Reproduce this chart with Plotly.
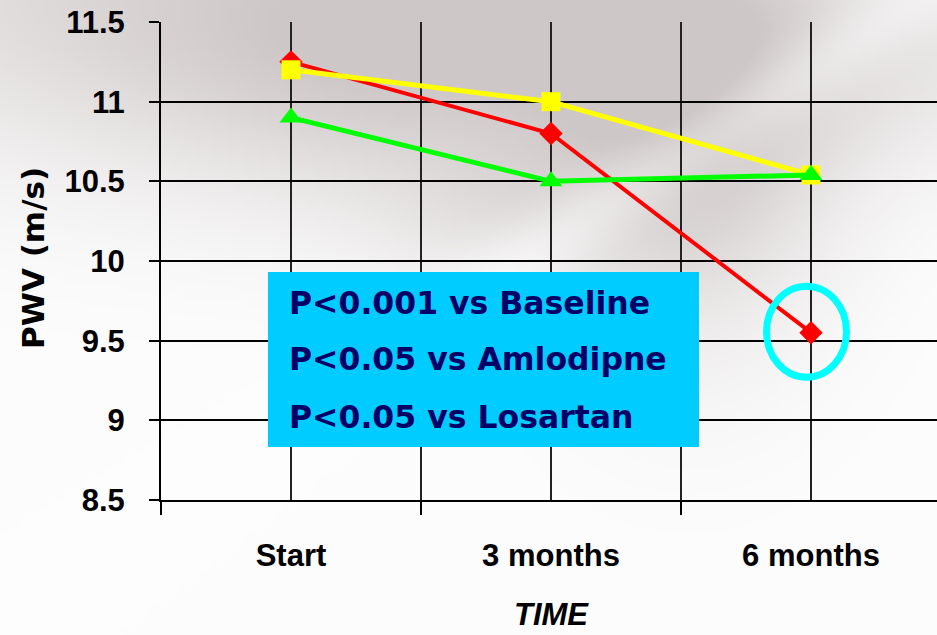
import base64
import struct
import zlib

import numpy as np
import plotly.graph_objects as go

# ---- data -------------------------------------------------------------
categories = ["Start", "3 months", "6 months"]
pwv_red = [11.25, 10.80, 9.55]
pwv_yellow = [11.20, 11.00, 10.54]
pwv_green = [10.90, 10.50, 10.54]
y_ticks = [8.5, 9, 9.5, 10, 10.5, 11, 11.5]
notes = ["P<0.001 vs Baseline", "P<0.05 vs Amlodipne", "P<0.05 vs Losartan"]

# ---- page geometry (pixels) --------------------------------------------
W, H = 937, 635
ML, MT, MB = 161, 22, 135
PW, PH = W - ML, H - MT - MB


def px_x(p):
    return (p - ML) / PW


def px_y(p):
    return (H - MB - p) / PH


# ---- soft photographic backdrop ----------------------------------------
def backdrop():
    s = 4
    h, w = H // s + 1, W // s + 1
    yy, xx = np.mgrid[0:h, 0:w].astype(float) * s
    shade = np.zeros((h, w))

    def blob(cx, cy, sx, sy, a):
        return a * np.exp(-((xx - cx) ** 2 / (2 * sx ** 2) + (yy - cy) ** 2 / (2 * sy ** 2)))

    shade += blob(440, 40, 200, 110, 0.85)
    shade += blob(690, 120, 100, 150, 0.8)
    shade += blob(80, -20, 260, 130, 0.55)
    shade += blob(900, 40, 140, 90, 0.4)
    shade += blob(500, 220, 90, 50, 0.25)
    # pale diagonal streak across the darker region
    x0, y0, x1, y1 = 540, 250, 860, 30
    dx, dy = x1 - x0, y1 - y0
    d = np.abs((xx - x0) * dy - (yy - y0) * dx) / np.hypot(dx, dy)
    shade -= 0.45 * np.exp(-d ** 2 / (2 * 28 ** 2)) * np.exp(-((yy - 140) ** 2) / (2 * 120 ** 2))
    shade = np.clip(shade, 0, 1)
    light = np.array([253, 253, 253], float)
    dark = np.array([206, 199, 199], float)
    rgb = light[None, None, :] - shade[..., None] * (light - dark)[None, None, :]
    rgb = np.clip(rgb, 0, 255).astype(np.uint8)

    raw = b"".join(b"\x00" + rgb[i].tobytes() for i in range(h))

    def chunk(tag, data):
        c = struct.pack(">I", len(data)) + tag + data
        return c + struct.pack(">I", zlib.crc32(tag + data) & 0xFFFFFFFF)

    png = (b"\x89PNG\r\n\x1a\n"
           + chunk(b"IHDR", struct.pack(">IIBBBBB", w, h, 8, 2, 0, 0, 0))
           + chunk(b"IDAT", zlib.compress(raw, 9))
           + chunk(b"IEND", b""))
    return "data:image/png;base64," + base64.b64encode(png).decode()


xpos = list(range(len(categories)))

fig = go.Figure()
fig.add_trace(go.Scatter(
    x=xpos, y=pwv_red, mode="lines+markers", name="Group A",
    line=dict(color="#ff0000", width=4),
    marker=dict(symbol="diamond", size=18, color="#ff0000"),
))
fig.add_trace(go.Scatter(
    x=xpos, y=pwv_yellow, mode="lines+markers", name="Group B",
    line=dict(color="#ffff00", width=5),
    marker=dict(symbol="square", size=19, color="#ffff00"),
))
fig.add_trace(go.Scatter(
    x=xpos, y=pwv_green, mode="lines+markers", name="Group C",
    line=dict(color="#00ff00", width=5),
    marker=dict(symbol="triangle-up", size=20, color="#00ff00"),
))

tick_font = dict(family="Liberation Sans, Arial, sans-serif", size=31, color="black", weight="bold")

fig.update_layout(
    width=W, height=H,
    margin=dict(l=ML, r=0, t=MT, b=MB, pad=0),
    paper_bgcolor="white",
    plot_bgcolor="rgba(0,0,0,0)",
    showlegend=False,
    xaxis=dict(
        range=[-0.5, 2.5 - 4 / 260],
        tickmode="array", tickvals=xpos, ticktext=categories,
        ticks="", tickfont=tick_font, ticklabelstandoff=27,
        showgrid=True, gridcolor="#222222", gridwidth=1.5,
        showline=True, linecolor="black", linewidth=2,
        zeroline=False,
        minor=dict(tickvals=[-0.5, 0.5, 1.5, 2.5], ticks="outside", ticklen=13,
                   tickwidth=1.5, tickcolor="black",
                   showgrid=True, gridcolor="#222222", gridwidth=1.5),
    ),
    yaxis=dict(
        range=[8.5, 11.5],
        tickmode="array", tickvals=y_ticks,
        ticktext=[f"{v:g}" for v in y_ticks],
        ticks="outside", ticklen=10, tickwidth=1.5, tickcolor="black",
        tickfont=tick_font, ticklabelstandoff=18,
        showgrid=True, gridcolor="black", gridwidth=2,
        showline=True, linecolor="black", linewidth=2,
        zeroline=False,
    ),
    images=[dict(
        source=backdrop(), xref="paper", yref="paper",
        x=px_x(0), y=px_y(0), sizex=W / PW, sizey=H / PH,
        xanchor="left", yanchor="top", sizing="stretch", layer="below",
    )],
)

# significance box
fig.add_shape(type="rect", xref="paper", yref="paper",
              x0=px_x(268), x1=px_x(699), y0=px_y(447), y1=px_y(272),
              fillcolor="#00ccff", line=dict(width=0), layer="above")
for text, yc in zip(notes, [303, 359, 417]):
    fig.add_annotation(
        text=text, xref="paper", yref="paper", x=px_x(287), y=px_y(yc),
        xanchor="left", yanchor="middle", showarrow=False,
        font=dict(family="DejaVu Sans", size=31.5, color="#000066", weight="bold"),
    )

# ring around the final value of the red series
fig.add_shape(type="circle", xref="x", yref="y",
              xsizemode="pixel", ysizemode="pixel",
              xanchor=xpos[2], yanchor=pwv_red[2],
              x0=-44.5, x1=35.5, y0=-44.5, y1=46.5,
              line=dict(color="#00ffff", width=7), layer="above")

# axis titles
fig.add_annotation(
    text="PWV (m/s)", xref="paper", yref="paper", x=px_x(33), y=px_y(258),
    xanchor="center", yanchor="middle", textangle=-90, showarrow=False,
    font=dict(family="DejaVu Sans", size=31, color="black", weight="bold"),
)
fig.add_annotation(
    text="TIME", xref="paper", yref="paper", x=px_x(551), y=px_y(614),
    xanchor="center", yanchor="middle", showarrow=False,
    font=dict(family="Liberation Sans, Arial, sans-serif", size=31, color="black",
              weight="bold", style="italic"),
)

fig.write_html("out.html")
